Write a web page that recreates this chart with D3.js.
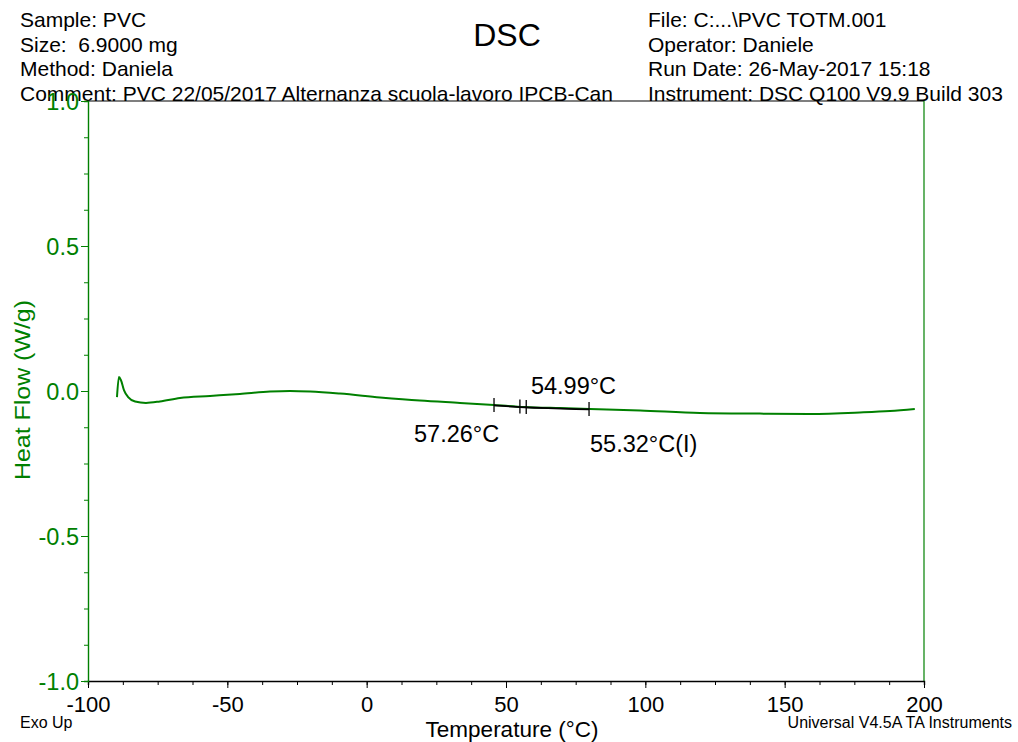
<!doctype html>
<html>
<head>
<meta charset="utf-8">
<title>DSC</title>
<style>
body { margin:0; background:#fff; }
svg { display:block; font-family: Arial, "Liberation Sans", sans-serif; }
</style>
</head>
<body>
<svg width="1018" height="742" id="chart"></svg>
<script src="https://d3js.org/d3.v7.min.js"></script>
<script>
// curve: temperature (°C) and heat flow (W/g)
var temps = [-89.6, -88.9, -88.2, -87.1, -85.6, -83.1, -79.2, -74.2, -67.0, -56.2, -45.5, -34.7, -27.5, -20.3, -9.6, 4.8, 19.1, 33.5, 45.7, 56.8, 69.4, 80.1, 98.1, 119.6, 141.1, 159.1, 177.0, 187.8, 196.7];
var flows = [-0.021, 0.048, 0.038, 0.003, -0.021, -0.036, -0.041, -0.036, -0.024, -0.017, -0.010, -0.002, 0.0, -0.002, -0.009, -0.022, -0.033, -0.041, -0.048, -0.055, -0.059, -0.062, -0.067, -0.076, -0.078, -0.079, -0.074, -0.069, -0.062];

var xTicks = [-100, -50, 0, 50, 100, 150, 200];
var yTicks = [-1.0, -0.5, 0.0, 0.5, 1.0];

var leftHeader = ["Sample: PVC", "Size:  6.9000 mg", "Method: Daniela", "Comment: PVC 22/05/2017 Alternanza scuola-lavoro IPCB-Can"];
var rightHeader = ["File: C:...\\PVC TOTM.001", "Operator: Daniele", "Run Date: 26-May-2017 15:18", "Instrument: DSC Q100 V9.9 Build 303"];

// glass transition analysis
var tgOnset = 45.7, tgEnd = 79.8;
var tgMid = [54.99, 57.26];
var tgLabels = ["54.99°C", "57.26°C", "55.32°C(I)"];

var green = "#008000";
var font = "Arial, 'Liberation Sans', sans-serif";
var svg = d3.select("#chart");
var m = {left: 88, right: 924, top: 101, bottom: 681};

var x = d3.scaleLinear().domain([-100, 200]).range([m.left, m.right]);
var y = d3.scaleLinear().domain([-1, 1]).range([m.bottom, m.top]);

// header
var hdr = svg.append("g").attr("font-size", 21).attr("fill", "#000");
leftHeader.forEach(function(t, i) {
  hdr.append("text").attr("x", 20).attr("y", 27 + i * 24.6).attr("xml:space", "preserve").text(t);
});
rightHeader.forEach(function(t, i) {
  hdr.append("text").attr("x", 648).attr("y", 27 + i * 24.6).text(t);
});
svg.append("text").attr("x", 507).attr("y", 46).attr("text-anchor", "middle")
  .attr("font-size", 32).text("DSC");

// frame: top black, sides green
svg.append("line").attr("x1", m.left).attr("x2", m.right).attr("y1", m.top).attr("y2", m.top)
  .attr("stroke", "#000").attr("stroke-width", 1.2);
svg.append("line").attr("x1", m.right).attr("x2", m.right).attr("y1", m.top).attr("y2", m.bottom)
  .attr("stroke", green).attr("stroke-width", 1.2);

// x axis
var xAxis = svg.append("g").attr("transform", "translate(0," + m.bottom + ")");
xAxis.call(d3.axisBottom(x).tickValues(d3.range(-100, 200.1, 12.5)).tickSize(4).tickFormat(""));
xAxis.select(".domain").attr("stroke", "#000").attr("stroke-width", 1.4);
xAxis.selectAll(".tick line").attr("stroke", "#000");
var xMajor = svg.append("g").attr("transform", "translate(0," + m.bottom + ")")
  .call(d3.axisBottom(x).tickValues(xTicks).tickSize(7).tickFormat(function(d) {
    return d < 0 ? "-" + Math.abs(d) : d;
  }));
xMajor.select(".domain").remove();
xMajor.selectAll(".tick line").attr("stroke", "#000");
xMajor.selectAll(".tick text").attr("font-size", 22).attr("fill", "#000")
  .attr("font-family", font).attr("dy", null).attr("y", 31);

// y axis
var yAxis = svg.append("g").attr("transform", "translate(" + m.left + ",0)");
yAxis.call(d3.axisLeft(y).tickValues(d3.range(-1, 1.01, 0.125)).tickSize(4).tickFormat(""));
yAxis.select(".domain").attr("stroke", green).attr("stroke-width", 1.4);
yAxis.selectAll(".tick line").attr("stroke", green);
var yMajor = svg.append("g").attr("transform", "translate(" + m.left + ",0)")
  .call(d3.axisLeft(y).tickValues(yTicks).tickSize(7).tickFormat(function(d) {
    return (d < 0 ? "-" : "") + Math.abs(d).toFixed(1);
  }));
yMajor.select(".domain").remove();
yMajor.selectAll(".tick line").attr("stroke", green);
yMajor.selectAll(".tick text").attr("font-size", 23.5).attr("fill", green)
  .attr("font-family", font).attr("x", -9).attr("dy", "0.36em");

// axis titles
svg.append("text").attr("transform", "translate(22,390) rotate(-90)").attr("text-anchor", "middle")
  .attr("font-size", 22.5).attr("fill", green).attr("dy", "0.35em")
  .attr("textLength", 180).attr("lengthAdjust", "spacingAndGlyphs").text("Heat Flow (W/g)");
svg.append("text").attr("x", 512).attr("y", 737).attr("text-anchor", "middle")
  .attr("font-size", 22.5).text("Temperature (°C)");
svg.append("text").attr("x", 20).attr("y", 728).attr("font-size", 16).text("Exo Up");
svg.append("text").attr("x", 1012).attr("y", 728).attr("text-anchor", "end")
  .attr("font-size", 16).text("Universal V4.5A TA Instruments");

// curve
var pts = temps.map(function(t, i) { return [t, flows[i]]; });
var line = d3.line().x(function(d) { return x(d[0]); }).y(function(d) { return y(d[1]); })
  .curve(d3.curveMonotoneX);
svg.append("path").datum(pts).attr("d", line).attr("fill", "none")
  .attr("stroke", green).attr("stroke-width", 2);

// glass transition construction
var interp = d3.scaleLinear().domain(temps).range(flows);
var seg = [tgOnset, 50, 55, 60, 65, 70, 75, tgEnd].map(function(t) { return [t, interp(t)]; });
svg.append("path").datum(seg).attr("d", d3.line().x(function(d) { return x(d[0]); }).y(function(d) { return y(d[1]) + 0.5; }))
  .attr("fill", "none").attr("stroke", "#000").attr("stroke-width", 1.8);
[tgOnset, tgEnd].concat(tgMid).forEach(function(t) {
  var yy = y(interp(t));
  svg.append("line").attr("x1", x(t)).attr("x2", x(t)).attr("y1", yy - 7).attr("y2", yy + 7)
    .attr("stroke", "#000").attr("stroke-width", 1.3);
});
svg.append("text").attr("x", x(tgMid[0]) + 11).attr("y", 394).attr("font-size", 23.5).text(tgLabels[0]);
svg.append("text").attr("x", x(tgOnset) - 80).attr("y", 442).attr("font-size", 23.5).text(tgLabels[1]);
svg.append("text").attr("x", x(tgEnd) + 1).attr("y", 452).attr("font-size", 23.5).text(tgLabels[2]);
</script>
</body>
</html>
